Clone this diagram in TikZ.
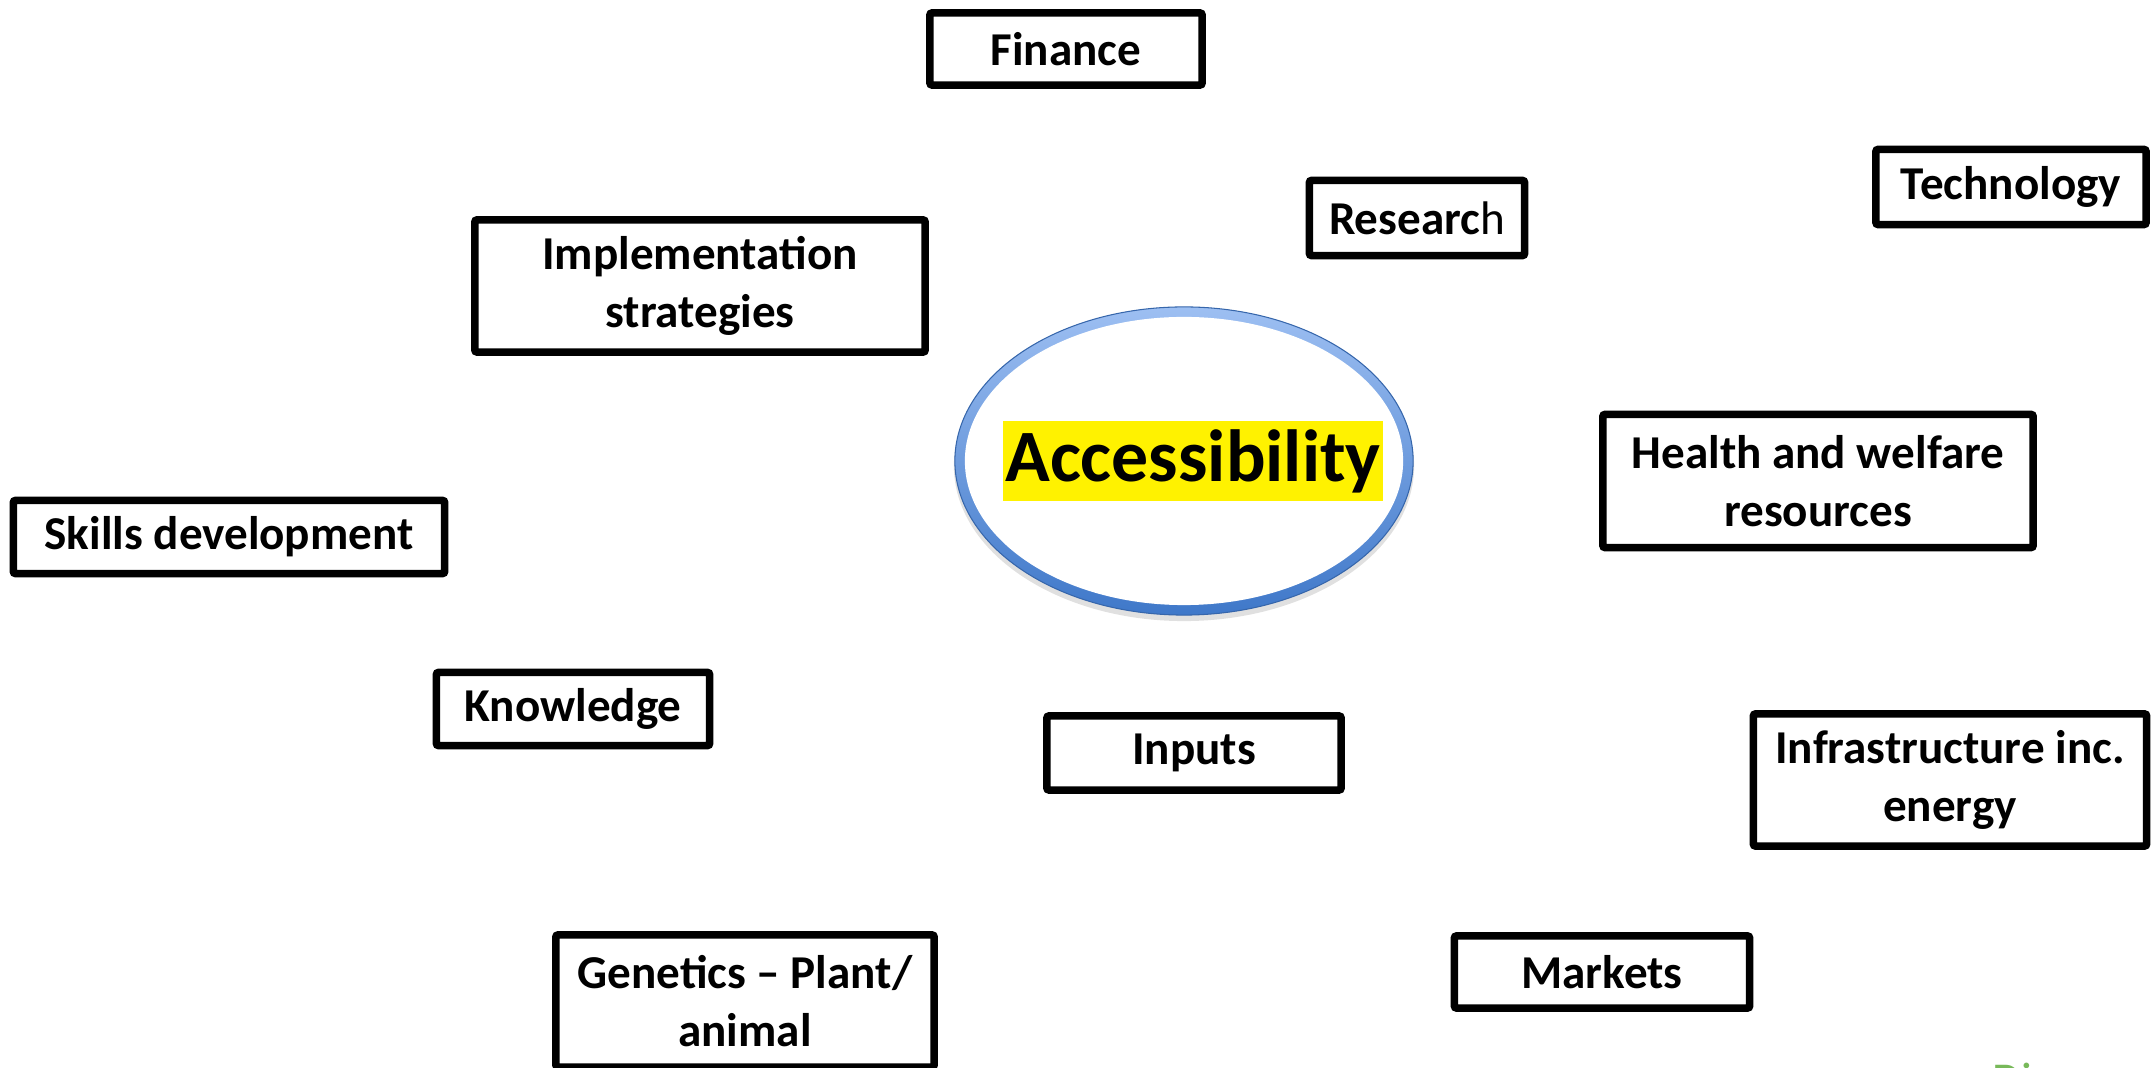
\documentclass[tikz,border=0pt]{standalone}
\usepackage{fontspec}
\setmainfont{Carlito}
\usetikzlibrary{positioning,shapes.geometric}
\definecolor{ringlight}{HTML}{9DBFF2}
\definecolor{ringdark}{HTML}{3F78C9}
\definecolor{logogreen}{HTML}{78B95A}

\begin{document}
\begin{tikzpicture}[x=0.01cm,y=-0.01cm,
  factor/.style={draw,line width=0.075cm,rounded corners=0.02cm,align=center,inner sep=0pt,
    font=\fontsize{13.4pt}{16.4pt}\selectfont\bfseries},
  hub/.style={fill=yellow,inner xsep=0.02cm,inner ysep=0.08cm,font=\fontsize{21pt}{25pt}\selectfont\bfseries}]

\useasboundingbox (0,0) rectangle (2154,1068);
\clip (0,0) rectangle (2154,1068);

\node (ring) [ellipse,minimum width=4.58cm,minimum height=3.08cm,inner sep=0pt] at (1184,461) {};
\fill[black!12] ([yshift=-0.05cm]ring.center) ellipse (2.30cm and 1.55cm);
\shade[top color=ringlight,bottom color=ringdark] (ring.center) ellipse (2.29cm and 1.54cm);
\fill[white] (ring.center) ellipse (2.19cm and 1.44cm);
\draw[ringdark!85!black,line width=0.3pt] (ring.center) ellipse (2.29cm and 1.54cm);
\node (access) [hub] at (1193,461) {Accessibility};

\node (finance) [factor,minimum width=2.72cm,minimum height=0.72cm] at (1066,49) {Finance};
\node (tech) [factor,minimum width=2.70cm,minimum height=0.75cm] at (2011,187) {Technology};
\node (research) [factor,minimum width=2.15cm,minimum height=0.75cm] at (1417,218) {Researc\mdseries h};
\node (implement) [factor,minimum width=4.50cm,minimum height=1.32cm] at (700,286) {Implementation\\strategies};
\node (health) [factor,minimum width=4.30cm,minimum height=1.33cm] at (1818,481) {Health and welfare\\resources};
\node (skills) [factor,minimum width=4.31cm,minimum height=0.73cm] at (229,537) {Skills development};
\node (knowledge) [factor,minimum width=2.73cm,minimum height=0.73cm] at (573,709) {Knowledge};
\node (inputs) [factor,minimum width=2.94cm,minimum height=0.74cm] at (1194,753) {Inputs};
\node (infra) [factor,minimum width=3.93cm,minimum height=1.32cm] at (1950,780) {Infrastructure inc.\\energy};
\node (genetics) [factor,minimum width=3.78cm,minimum height=1.32cm] at (745,1001) {Genetics -- Plant/\\animal};
\node (markets) [factor,minimum width=2.95cm,minimum height=0.72cm] at (1602,972) {Markets};

\node (logo) [anchor=north west,inner sep=0pt,text=logogreen,font=\fontsize{13.4pt}{16pt}\selectfont] at (1992,1062) {Di};

\end{tikzpicture}
\end{document}
